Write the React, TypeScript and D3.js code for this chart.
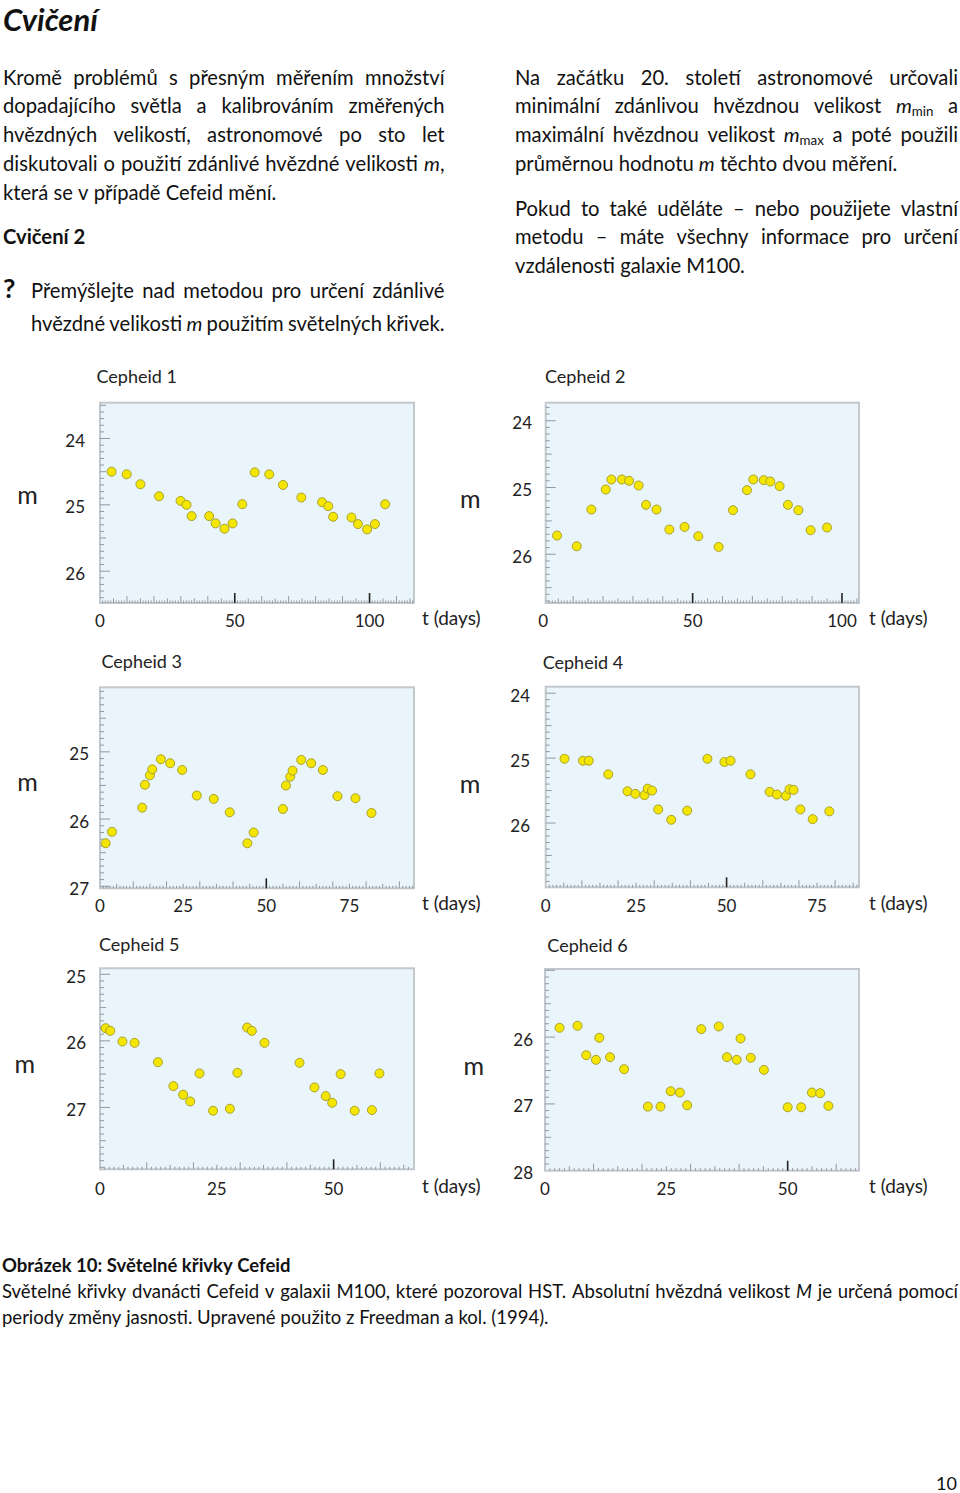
import React from 'react';
import * as d3 from 'd3';

// ---------- DATA ----------
const cepheid1T = [4.3, 9.9, 15.0, 21.9, 29.9, 32.1, 34.0, 40.5, 42.9, 46.2, 49.2, 52.8, 57.4, 62.8, 67.9, 74.7, 82.4, 84.7, 86.5, 93.3, 95.7, 99.1, 102.0, 105.8];
const cepheid1M = [24.5, 24.54, 24.69, 24.87, 24.94, 25.0, 25.17, 25.17, 25.28, 25.36, 25.28, 24.99, 24.51, 24.54, 24.7, 24.89, 24.96, 25.02, 25.18, 25.19, 25.29, 25.37, 25.29, 24.99];

const cepheid2T = [4.6, 11.2, 16.1, 20.9, 22.8, 26.3, 28.7, 31.9, 34.4, 37.9, 42.2, 47.3, 51.9, 58.7, 63.5, 68.2, 70.3, 73.8, 76.0, 79.1, 81.9, 85.4, 89.5, 95.0];
const cepheid2M = [25.72, 25.88, 25.33, 25.03, 24.88, 24.88, 24.9, 24.97, 25.26, 25.33, 25.63, 25.59, 25.73, 25.89, 25.34, 25.04, 24.88, 24.89, 24.91, 24.98, 25.26, 25.34, 25.64, 25.6];

const cepheid3T = [1.7, 3.6, 12.7, 13.5, 15.0, 15.7, 18.3, 21.1, 24.7, 29.1, 34.2, 39.0, 44.3, 46.2, 55.0, 55.9, 57.2, 57.9, 60.5, 63.5, 67.0, 71.4, 76.8, 81.6];
const cepheid3M = [26.36, 26.19, 25.83, 25.49, 25.35, 25.26, 25.11, 25.17, 25.27, 25.65, 25.7, 25.9, 26.36, 26.2, 25.85, 25.5, 25.37, 25.28, 25.12, 25.17, 25.27, 25.66, 25.69, 25.91];

const cepheid4T = [5.2, 10.3, 11.9, 17.3, 22.6, 24.8, 27.3, 28.2, 29.4, 31.1, 34.7, 39.1, 44.7, 49.4, 51.1, 56.6, 61.9, 63.9, 66.4, 67.4, 68.5, 70.4, 73.8, 78.4];
const cepheid4M = [25.01, 25.04, 25.04, 25.25, 25.51, 25.55, 25.57, 25.47, 25.5, 25.79, 25.95, 25.81, 25.01, 25.06, 25.04, 25.25, 25.52, 25.56, 25.58, 25.48, 25.49, 25.79, 25.94, 25.82];

const cepheid5T = [1.2, 2.2, 4.8, 7.4, 12.4, 15.7, 17.8, 19.3, 21.3, 24.2, 27.8, 29.4, 31.5, 32.5, 35.2, 42.7, 45.9, 48.3, 49.7, 51.5, 54.5, 58.2, 59.8];
const cepheid5M = [25.81, 25.85, 26.01, 26.03, 26.32, 26.68, 26.81, 26.91, 26.49, 27.05, 27.02, 26.48, 25.8, 25.85, 26.03, 26.33, 26.7, 26.83, 26.93, 26.5, 27.05, 27.04, 26.49];

const cepheid6T = [3.0, 6.7, 8.5, 10.5, 11.2, 13.4, 16.3, 21.2, 23.8, 25.9, 27.8, 29.3, 32.2, 35.8, 37.5, 39.5, 40.3, 42.4, 45.1, 50.0, 52.8, 55.0, 56.7, 58.4];
const cepheid6M = [25.86, 25.83, 26.27, 26.34, 26.01, 26.3, 26.48, 27.04, 27.04, 26.81, 26.83, 27.02, 25.88, 25.84, 26.3, 26.34, 26.02, 26.31, 26.49, 27.05, 27.05, 26.83, 26.84, 27.03];

const xTicks1 = [0, 50, 100];
const xTicks2 = [0, 50, 100];
const xTicks3 = [0, 25, 50, 75];
const xTicks4 = [0, 25, 50, 75];
const xTicks5 = [0, 25, 50];
const xTicks6 = [0, 25, 50];
const yTicks1 = [24, 25, 26];
const yTicks2 = [24, 25, 26];
const yTicks3 = [25, 26, 27];
const yTicks4 = [24, 25, 26];
const yTicks5 = [25, 26, 27];
const yTicks6 = [26, 27, 28];

const titles = ['Cepheid 1', 'Cepheid 2', 'Cepheid 3', 'Cepheid 4', 'Cepheid 5', 'Cepheid 6'];

// ---------- LAYOUT ----------
type Panel = {
  title: string; t: number[]; m: number[]; xTicks: number[]; yTicks: number[];
  x0: number; x1: number; y0: number; y1: number;
  xDomain: [number, number]; yDomain: [number, number];
  titleX: number; titleY: number; yLabelRight: number; xLabelY: number;
  mX: number; mY: number; tX: number;
};

const panels: Panel[] = [
  { title: titles[0], t: cepheid1T, m: cepheid1M, xTicks: xTicks1, yTicks: yTicks1,
    x0: 100, x1: 414, y0: 402.7, y1: 603, xDomain: [0, 116.5], yDomain: [23.46, 26.48],
    titleX: 96.5, titleY: 383, yLabelRight: 85, xLabelY: 626.7, mX: 27.5, mY: 504, tX: 422 },
  { title: titles[1], t: cepheid2T, m: cepheid2M, xTicks: xTicks2, yTicks: yTicks2,
    x0: 545.7, x1: 859, y0: 402.7, y1: 603, xDomain: [0.8, 105.7], yDomain: [23.73, 26.73],
    titleX: 545, titleY: 383, yLabelRight: 532, xLabelY: 626.7, mX: 470.3, mY: 507.5, tX: 869 },
  { title: titles[2], t: cepheid3T, m: cepheid3M, xTicks: xTicks3, yTicks: yTicks3,
    x0: 100, x1: 414, y0: 687.3, y1: 888.3, xDomain: [0, 94.4], yDomain: [24.04, 27.03],
    titleX: 101.5, titleY: 668, yLabelRight: 89, xLabelY: 911.7, mX: 27.5, mY: 790.5, tX: 422 },
  { title: titles[3], t: cepheid4T, m: cepheid4M, xTicks: xTicks4, yTicks: yTicks4,
    x0: 545.7, x1: 859, y0: 686.7, y1: 887.3, xDomain: [0, 86.6], yDomain: [23.9, 26.99],
    titleX: 542.7, titleY: 669, yLabelRight: 530, xLabelY: 911.7, mX: 470, mY: 793, tX: 869 },
  { title: titles[4], t: cepheid5T, m: cepheid5M, xTicks: xTicks5, yTicks: yTicks5,
    x0: 100, x1: 414, y0: 968.3, y1: 1169.3, xDomain: [0, 67.2], yDomain: [24.91, 27.93],
    titleX: 99, titleY: 951, yLabelRight: 86, xLabelY: 1194.5, mX: 24.7, mY: 1072.5, tX: 422 },
  { title: titles[5], t: cepheid6T, m: cepheid6M, xTicks: xTicks6, yTicks: yTicks6,
    x0: 545, x1: 859, y0: 969, y1: 1170.7, xDomain: [0, 64.7], yDomain: [24.98, 28.0],
    titleX: 547.3, titleY: 952, yLabelRight: 533, xLabelY: 1194.5, mX: 473.7, mY: 1075, tX: 869 },
];

// ---------- TEXT ----------
type Line = { text: string; x0: number; x1: number; y: number; justify: boolean; size: number; bold?: boolean; italic?: boolean };

const BODY = 20.2;
const CAP = 18.5;
const textLines: Line[] = [
  { text: 'Kromě problémů s přesným měřením množství', x0: 3, x1: 444.5, y: 84.5, justify: true, size: BODY },
  { text: 'dopadajícího světla a kalibrováním změřených', x0: 3, x1: 444.5, y: 113, justify: true, size: BODY },
  { text: 'hvězdných velikostí, astronomové po sto let', x0: 3, x1: 444.5, y: 142, justify: true, size: BODY },
  { text: 'diskutovali o použití zdánlivé hvězdné velikosti *m*,', x0: 3, x1: 444.5, y: 170.5, justify: true, size: BODY },
  { text: 'která se v případě Cefeid mění.', x0: 3, x1: 444.5, y: 199.5, justify: false, size: BODY },
  { text: 'Cvičení 2', x0: 3, x1: 444.5, y: 244, justify: false, size: BODY, bold: true },
  { text: 'Přemýšlejte nad metodou pro určení zdánlivé', x0: 31, x1: 444.5, y: 298, justify: true, size: BODY },
  { text: 'hvězdné velikosti *m* použitím světelných křivek.', x0: 31, x1: 444.5, y: 330.5, justify: true, size: BODY },
  { text: 'Na začátku 20. století astronomové určovali', x0: 515, x1: 958, y: 84.5, justify: true, size: BODY },
  { text: 'minimální zdánlivou hvězdnou velikost *m*_min_ a', x0: 515, x1: 958, y: 113, justify: true, size: BODY },
  { text: 'maximální hvězdnou velikost *m*_max_ a poté použili', x0: 515, x1: 958, y: 142, justify: true, size: BODY },
  { text: 'průměrnou hodnotu *m* těchto dvou měření.', x0: 515, x1: 958, y: 170.5, justify: false, size: BODY },
  { text: 'Pokud to také uděláte – nebo použijete vlastní', x0: 515, x1: 958, y: 215.5, justify: true, size: BODY },
  { text: 'metodu – máte všechny informace pro určení', x0: 515, x1: 958, y: 244, justify: true, size: BODY },
  { text: 'vzdálenosti galaxie M100.', x0: 515, x1: 958, y: 273, justify: false, size: BODY },
  { text: 'Obrázek 10: Světelné křivky Cefeid', x0: 2, x1: 958, y: 1272, justify: false, size: CAP, bold: true },
  { text: 'Světelné křivky dvanácti Cefeid v galaxii M100, které pozoroval HST. Absolutní hvězdná velikost *M* je určená pomocí', x0: 2, x1: 958, y: 1298, justify: true, size: CAP },
  { text: 'periody změny jasnosti. Upravené použito z Freedman a kol. (1994).', x0: 2, x1: 958, y: 1324, justify: false, size: CAP },
];

const FAMILY = 'Lato';
const FONT = 'Lato, "Open Sans", "DejaVu Sans", sans-serif';

let ctx: CanvasRenderingContext2D | null = null;
function measure(text: string, size: number, italic: boolean, bold: boolean) {
  if (!ctx) ctx = document.createElement('canvas').getContext('2d');
  if (!ctx) return text.length * size * 0.5;
  ctx.font = `${italic ? 'italic ' : ''}${bold ? 'bold ' : ''}${size}px ${FAMILY}`;
  return ctx.measureText(text).width;
}

type Piece = { text: string; size: number; italic: boolean; bold: boolean; dy: number };

function parseWord(w: string, line: Line): Piece[] {
  return w.split(/(\*[^*]+\*|_[^_]+_)/).filter((s) => s.length > 0).map((s) => {
    if (s.startsWith('*')) return { text: s.slice(1, -1), size: line.size, italic: true, bold: !!line.bold, dy: 0 };
    if (s.startsWith('_')) return { text: s.slice(1, -1), size: line.size * 0.66, italic: false, bold: !!line.bold, dy: 3 };
    return { text: s, size: line.size, italic: !!line.italic, bold: !!line.bold, dy: 0 };
  });
}

function TextLine({ line }: { line: Line }) {
  const words = line.text.split(' ').map((w) => parseWord(w, line));
  const widths = words.map((w) => w.reduce((s, p) => s + measure(p.text, p.size, p.italic, p.bold), 0));
  const total = d3.sum(widths);
  let gap = measure(' ', line.size, false, !!line.bold);
  if (line.justify && words.length > 1) gap = (line.x1 - line.x0 - total) / (words.length - 1);
  let x = line.x0;
  const out: React.ReactNode[] = [];
  words.forEach((w, i) => {
    w.forEach((p, j) => {
      out.push(
        <text key={`${i}-${j}`} x={x} y={line.y + p.dy} fontSize={p.size}
          fontStyle={p.italic ? 'italic' : 'normal'} fontWeight={p.bold ? 700 : 400} fill="#111">
          {p.text}
        </text>
      );
      x += measure(p.text, p.size, p.italic, p.bold);
    });
    x += gap;
  });
  return <g>{out}</g>;
}

// ---------- PANEL ----------
function PanelView({ p }: { p: Panel }) {
  const x = d3.scaleLinear().domain(p.xDomain).range([p.x0, p.x1]);
  const y = d3.scaleLinear().domain(p.yDomain).range([p.y0, p.y1]);
  const xMinor = d3.range(Math.ceil(p.xDomain[0]), Math.floor(p.xDomain[1]) + 1);
  const yMinor = d3.range(Math.ceil(p.yDomain[0] * 10), Math.floor(p.yDomain[1] * 10) + 1).map((v) => v / 10);
  const tickColor = '#8f99a3';
  return (
    <g>
      <text x={p.titleX} y={p.titleY} fontSize={18} fill="#222">{p.title}</text>
      <rect x={p.x0} y={p.y0} width={p.x1 - p.x0} height={p.y1 - p.y0} fill="#eaf4fb" stroke="#c3c8cd" strokeWidth={2} />
      {xMinor.map((d) => {
        const big = d % 50 === 0;
        const len = big ? 10 : d % 10 === 0 ? 7 : d % 5 === 0 ? 4.5 : 2.5;
        const xx = x(d);
        if (xx < p.x0 + 1 || xx > p.x1 - 1) return null;
        return <line key={`xt${d}`} x1={xx} x2={xx} y1={p.y1} y2={p.y1 - len}
          stroke={big ? '#222' : tickColor} strokeWidth={big ? 1.6 : 1} />;
      })}
      {yMinor.map((d) => {
        const r = Math.round(d * 10);
        const len = r % 10 === 0 ? 10 : r % 5 === 0 ? 6 : 4;
        const yy = y(d);
        if (yy < p.y0 + 1 || yy > p.y1 - 1) return null;
        return <line key={`yt${r}`} x1={p.x0} x2={p.x0 + len} y1={yy} y2={yy} stroke={tickColor} strokeWidth={1} />;
      })}
      {p.yTicks.map((d) => (
        <text key={`yl${d}`} x={p.yLabelRight} y={y(d) + 8.5} fontSize={17} textAnchor="end" fill="#222">{d}</text>
      ))}
      {p.xTicks.map((d) => (
        <text key={`xl${d}`} x={x(d)} y={p.xLabelY} fontSize={17} textAnchor="middle" fill="#222">{d}</text>
      ))}
      <text x={p.tX} y={p.xLabelY - 1.5} fontSize={19} fill="#222">t (days)</text>
      <text x={p.mX} y={p.mY} fontSize={25} textAnchor="middle" fill="#222">m</text>
      {p.t.map((t, i) => (
        <circle key={`pt${i}`} cx={x(t)} cy={y(p.m[i])} r={4.5} fill="#f4e600" stroke="#a9a22e" strokeWidth={1} />
      ))}
    </g>
  );
}

export default function App() {
  return (
    <svg width={960} height={1493} style={{ position: 'absolute', left: 0, top: 0, background: '#fff' }} fontFamily={FONT}>
      <rect x={0} y={0} width={960} height={1493} fill="#fff" />
      <text x={3} y={30.5} fontSize={31} fontWeight={700} fontStyle="italic" fill="#111">Cvičení</text>
      {textLines.map((l, i) => <TextLine key={i} line={l} />)}
      <text x={3} y={298} fontSize={27} fontWeight={700} fill="#111">?</text>
      {panels.map((p) => <PanelView key={p.title} p={p} />)}
      <text x={957} y={1490} fontSize={18} textAnchor="end" fill="#111">10</text>
    </svg>
  );
}
